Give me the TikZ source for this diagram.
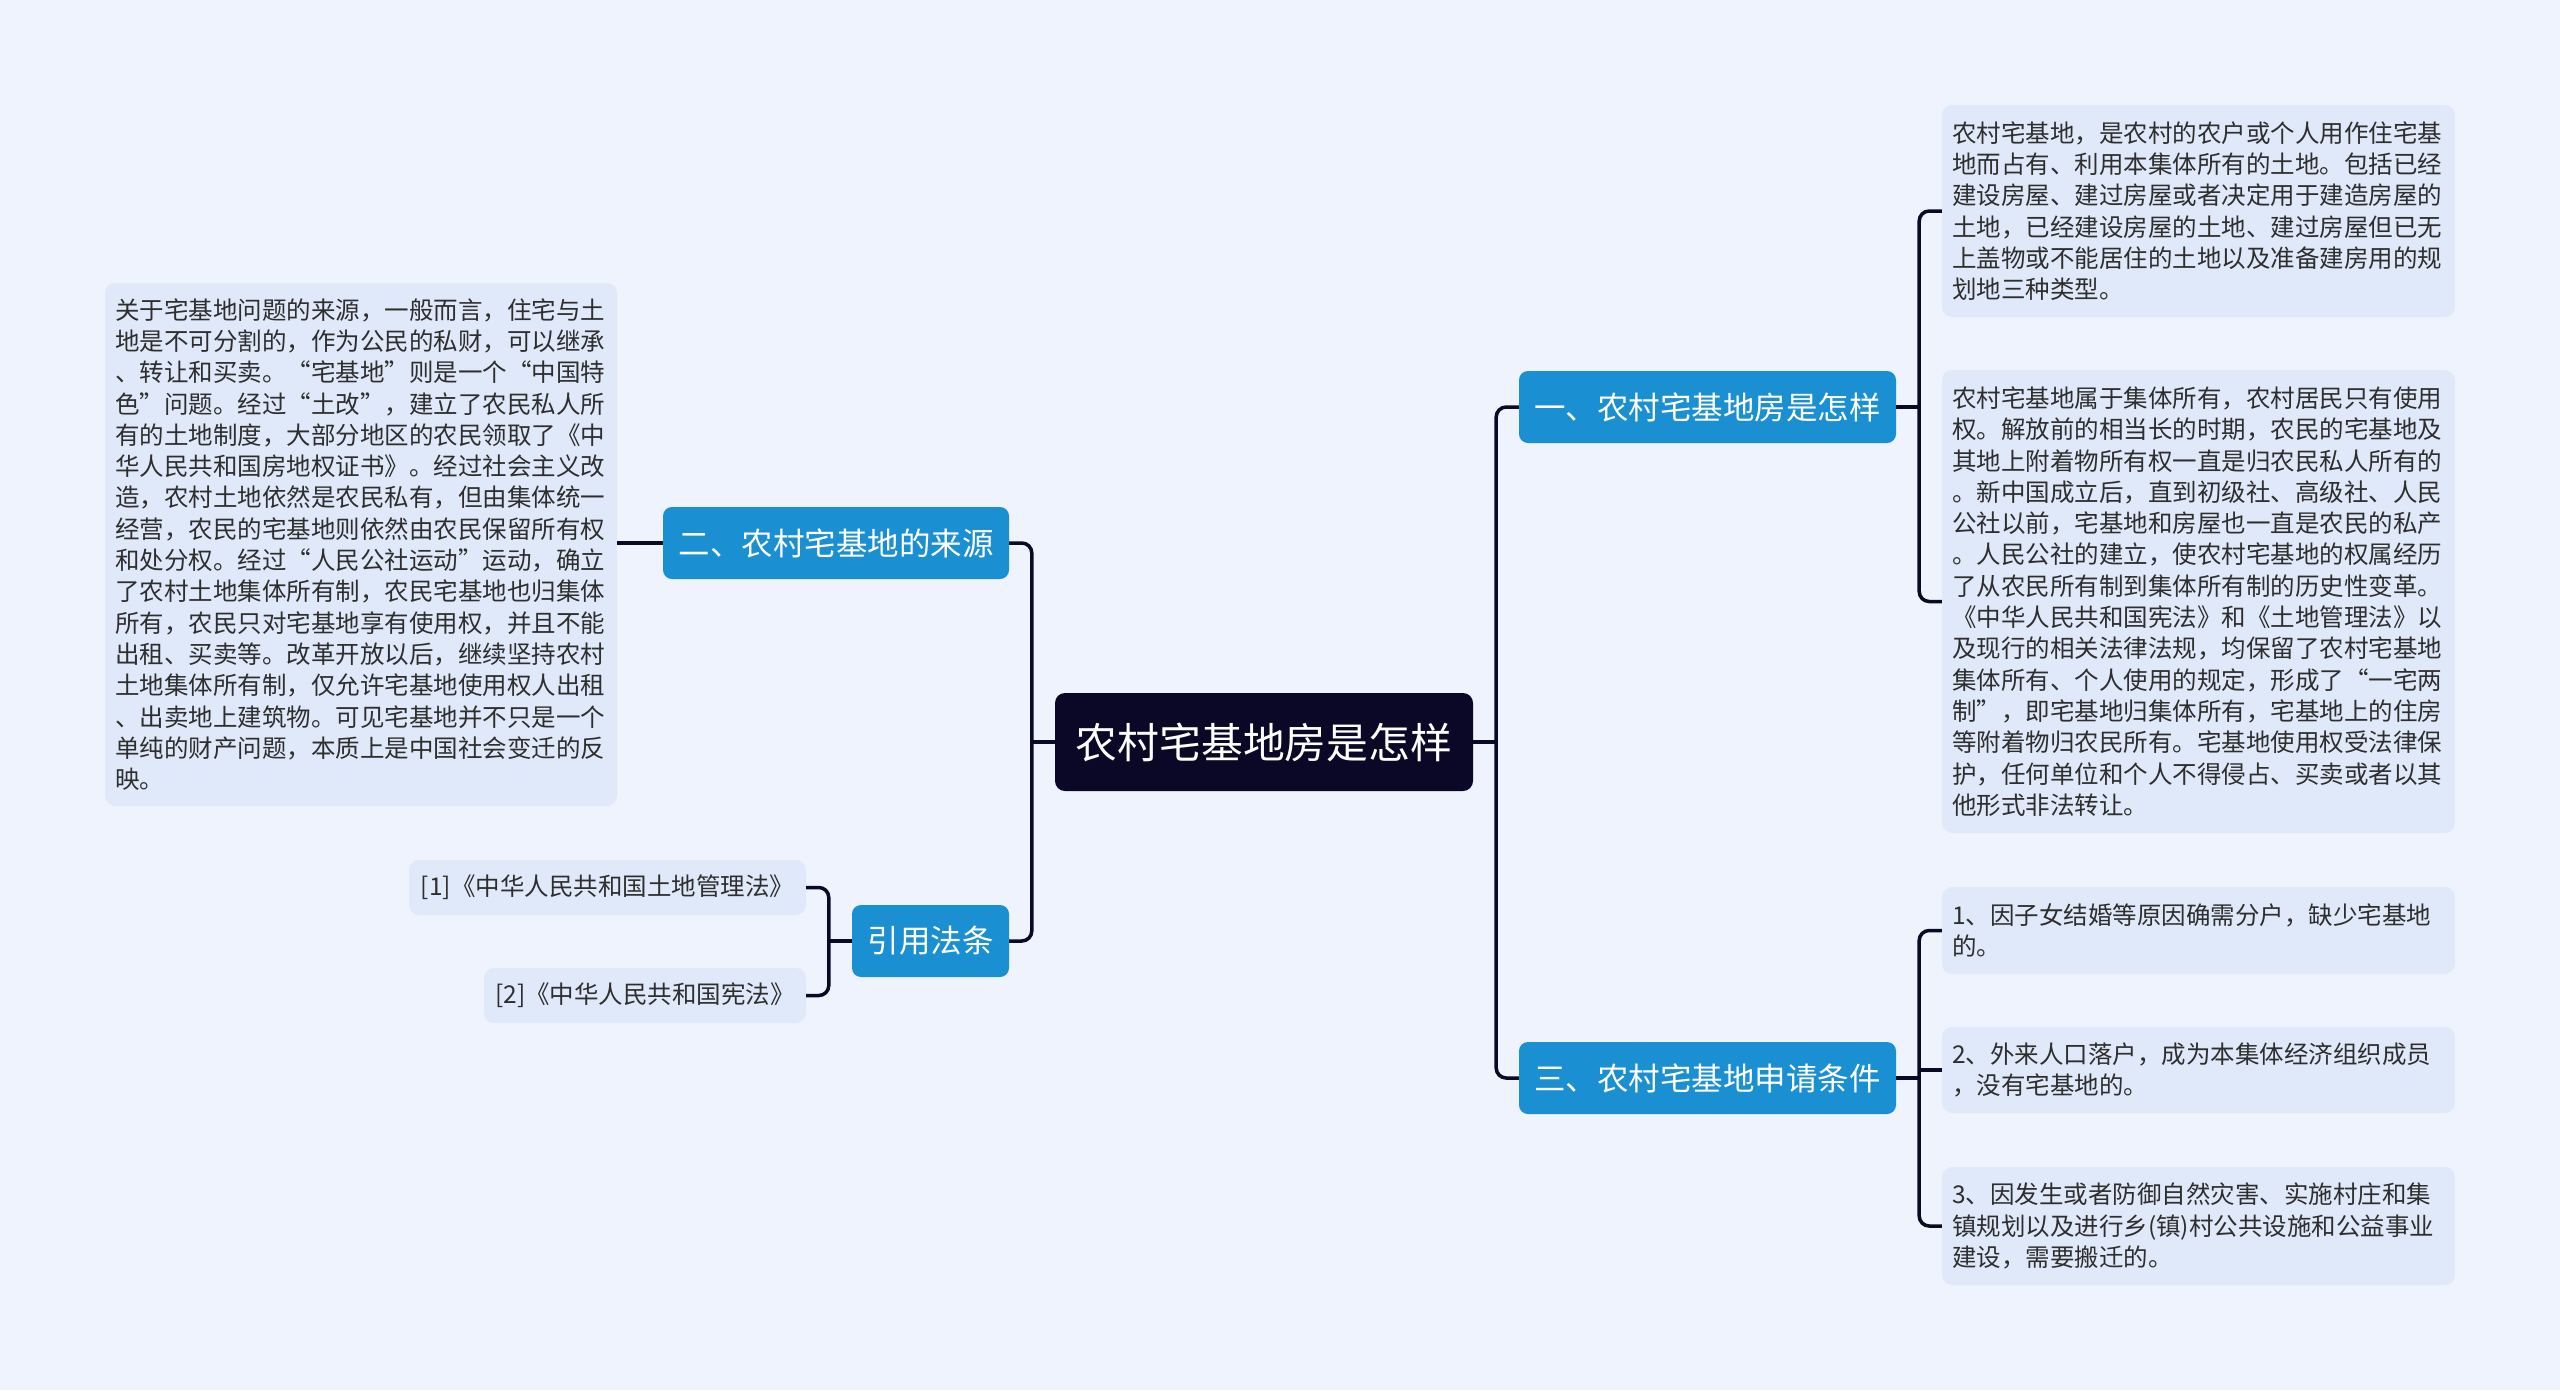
\documentclass[tikz,border=0pt]{standalone}
\usepackage{fontspec}
\setmainfont{Noto Sans CJK SC}
\newfontfamily\cjk{Noto Sans CJK SC}
\definecolor{bgc}{HTML}{EEF3FD}
\definecolor{leafc}{HTML}{E0E9FA}
\definecolor{bluec}{HTML}{1A8FD1}
\definecolor{rootc}{HTML}{0A0826}
\definecolor{linec}{HTML}{0B0A26}
\definecolor{textc}{HTML}{2E2E2E}
\begin{document}
\begin{tikzpicture}[x=1pt,y=-1pt,
  leaf/.style={fill=leafc, rounded corners=10pt, text width=493pt, inner xsep=10pt, inner ysep=0pt, align=left, text=textc, font=\cjk\fontsize{24.5}{31.3}\selectfont},
  refbox/.style={fill=leafc, rounded corners=10pt, inner xsep=0pt, inner ysep=0pt, minimum height=55pt, text=textc, font=\cjk\fontsize{24.5}{31.3}\selectfont},
  branch/.style={fill=bluec, rounded corners=9pt, inner sep=0pt, minimum height=72pt, text=white, font=\cjk\fontsize{31.5}{36}\selectfont},
  rootbox/.style={fill=rootc, rounded corners=10pt, inner sep=0pt, minimum width=418pt, minimum height=98pt, text=white, font=\cjk\fontsize{41.8}{48}\selectfont},
  conn/.style={draw=linec, line width=3.5pt, rounded corners=10pt}
]
\fill[bgc] (0,0) rectangle (2560,1390);
\useasboundingbox (0,0) rectangle (2560,1390);

% root
\node[rootbox] (root) at (1264,742) {农村宅基地房是怎样};

% level 1
\node[branch, minimum width=377pt] (b1) at (1707.5,407) {一、农村宅基地房是怎样};
\node[branch, minimum width=377pt] (b3) at (1707.5,1078) {三、农村宅基地申请条件};
\node[branch, minimum width=346pt] (b2) at (836,543) {二、农村宅基地的来源};
\node[branch, minimum width=157pt] (b4) at (930.5,941) {引用法条};

% leaves right
\node[leaf, minimum height=212pt] (r1) at (2198.5,211) {农村宅基地，是农村的农户或个人用作住宅基\\地而占有、利用本集体所有的土地。包括已经\\建设房屋、建过房屋或者决定用于建造房屋的\\土地，已经建设房屋的土地、建过房屋但已无\\上盖物或不能居住的土地以及准备建房用的规\\划地三种类型。};
\node[leaf, minimum height=463pt] (r2) at (2198.5,601.5) {农村宅基地属于集体所有，农村居民只有使用\\权。解放前的相当长的时期，农民的宅基地及\\其地上附着物所有权一直是归农民私人所有的\\。新中国成立后，直到初级社、高级社、人民\\公社以前，宅基地和房屋也一直是农民的私产\\。人民公社的建立，使农村宅基地的权属经历\\了从农民所有制到集体所有制的历史性变革。\\《中华人民共和国宪法》和《土地管理法》以\\及现行的相关法律法规，均保留了农村宅基地\\集体所有、个人使用的规定，形成了“一宅两\\制”，即宅基地归集体所有，宅基地上的住房\\等附着物归农民所有。宅基地使用权受法律保\\护，任何单位和个人不得侵占、买卖或者以其\\他形式非法转让。};
\node[leaf, minimum height=87pt] (i1) at (2198.5,930.5) {1、因子女结婚等原因确需分户，缺少宅基地\\的。};
\node[leaf, minimum height=86pt] (i2) at (2198.5,1070) {2、外来人口落户，成为本集体经济组织成员\\，没有宅基地的。};
\node[leaf, minimum height=118pt] (i3) at (2198.5,1226) {3、因发生或者防御自然灾害、实施村庄和集\\镇规划以及进行乡(镇)村公共设施和公益事业\\建设，需要搬迁的。};

% leaves left
\node[leaf, text width=492pt, minimum height=523pt] (lt) at (361,544.5) {关于宅基地问题的来源，一般而言，住宅与土\\地是不可分割的，作为公民的私财，可以继承\\、转让和买卖。“宅基地”则是一个“中国特\\色”问题。经过“土改”，建立了农民私人所\\有的土地制度，大部分地区的农民领取了《中\\华人民共和国房地权证书》。经过社会主义改\\造，农村土地依然是农民私有，但由集体统一\\经营，农民的宅基地则依然由农民保留所有权\\和处分权。经过“人民公社运动”运动，确立\\了农村土地集体所有制，农民宅基地也归集体\\所有，农民只对宅基地享有使用权，并且不能\\出租、买卖等。改革开放以后，继续坚持农村\\土地集体所有制，仅允许宅基地使用权人出租\\、出卖地上建筑物。可见宅基地并不只是一个\\单纯的财产问题，本质上是中国社会变迁的反\\映。};
\node[refbox, minimum width=397pt] (ref1) at (607.5,887.5) {[1]《中华人民共和国土地管理法》};
\node[refbox, minimum width=322pt] (ref2) at (645,995.5) {[2]《中华人民共和国宪法》};

% connectors: root
\path (root.east) ++(23,0) coordinate (rs);
\path (root.west) ++(-23,0) coordinate (ls);
\draw[conn] (root.east) -- (rs);
\draw[conn] (rs) |- (b1.west);
\draw[conn] (rs) |- (b3.west);
\draw[conn] (root.west) -- (ls);
\draw[conn] (ls) |- (b2.east);
\draw[conn] (ls) |- (b4.east);

% branch 1
\path (b1.east) ++(23,0) coordinate (s1);
\draw[conn] (b1.east) -- (s1);
\draw[conn] (s1) |- (r1.west);
\draw[conn] (s1) |- (r2.west);

% branch 3
\path (b3.east) ++(23,0) coordinate (s3);
\draw[conn] (b3.east) -- (s3);
\draw[conn] (s3) |- (i1.west);
\draw[conn] (s3) |- (i3.west);
\draw[conn] (s3 |- i2.west) -- (i2.west);

% branch 2
\draw[conn] (b2.west) -- (b2.west -| lt.east);

% branch 4
\path (b4.west) ++(-23,0) coordinate (s4);
\draw[conn] (b4.west) -- (s4);
\draw[conn] (s4) |- (ref1.east);
\draw[conn] (s4) |- (ref2.east);
\end{tikzpicture}
\end{document}
